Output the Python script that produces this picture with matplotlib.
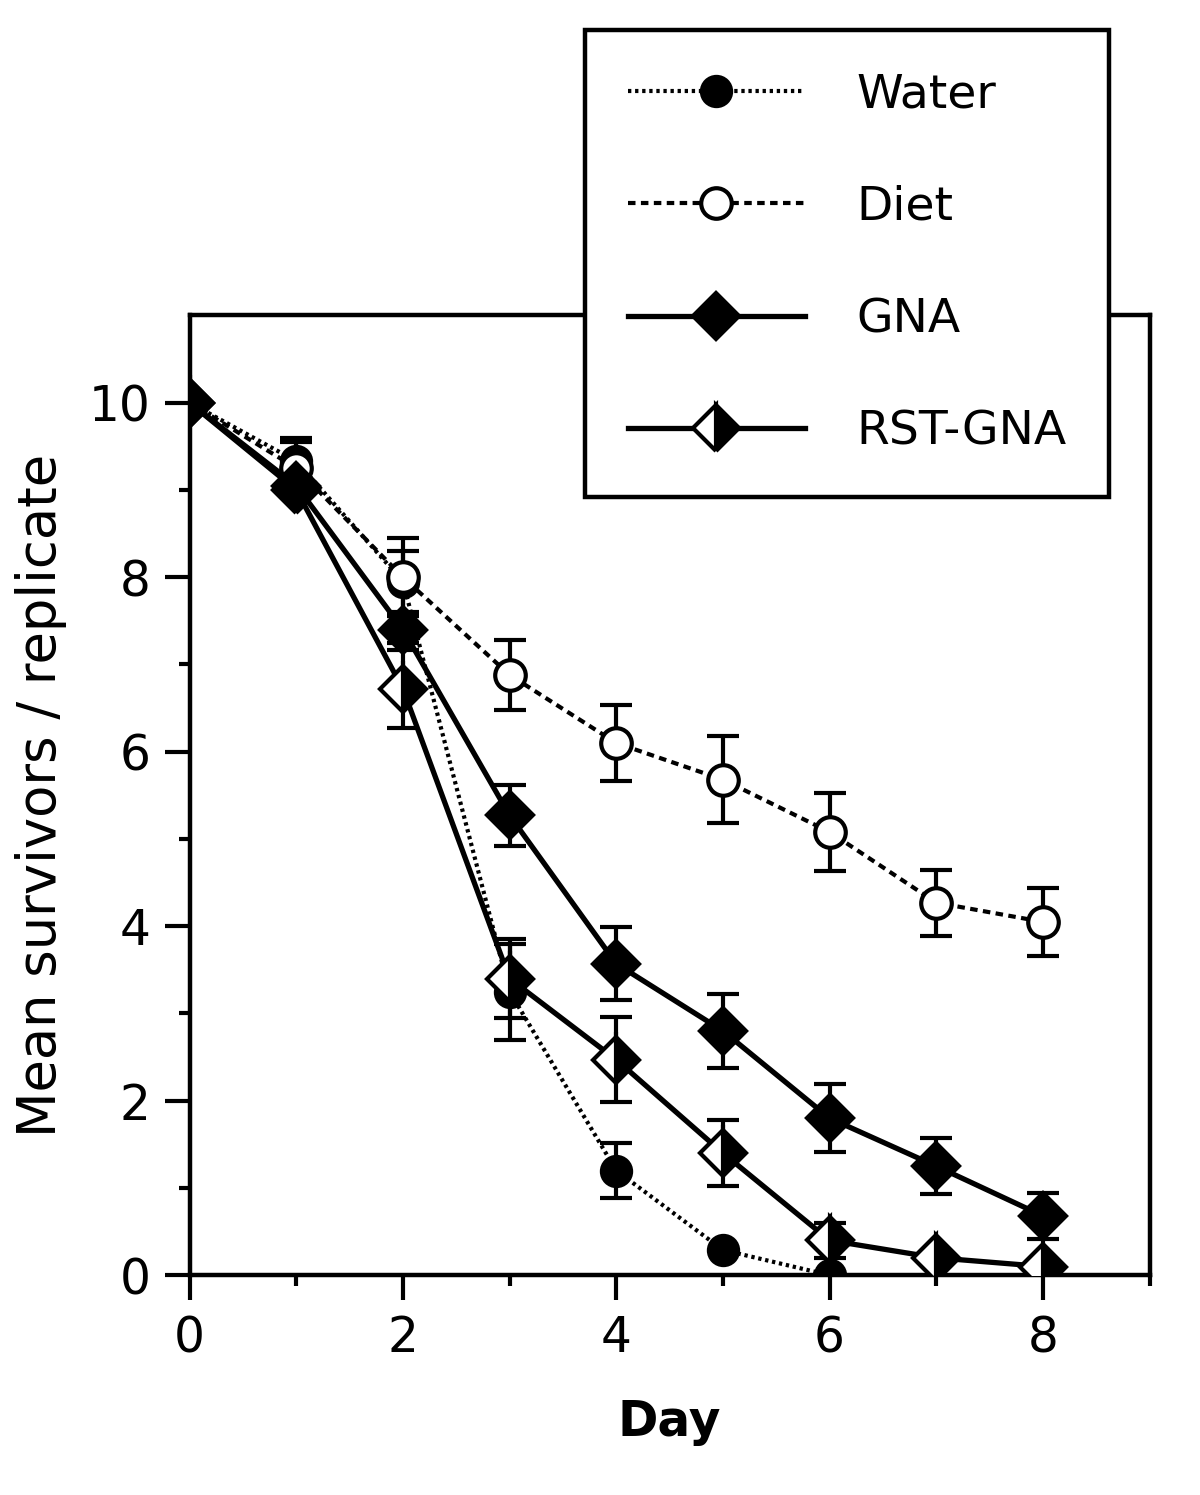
import matplotlib
matplotlib.use("Agg")
import matplotlib.pyplot as plt
from matplotlib.lines import Line2D

days = [0, 1, 2, 3, 4, 5, 6, 7, 8]

water_days = [0, 1, 2, 3, 4, 5, 6]
water = [10.0, 9.33, 7.95, 3.25, 1.2, 0.29, 0.0]
water_err = [0.0, 0.27, 0.35, 0.55, 0.31, 0.0, 0.0]

diet = [10.0, 9.25, 8.0, 6.88, 6.1, 5.68, 5.08, 4.27, 4.05]
diet_err = [0.0, 0.3, 0.45, 0.4, 0.44, 0.5, 0.45, 0.38, 0.39]

gna = [10.0, 9.05, 7.4, 5.27, 3.57, 2.8, 1.8, 1.25, 0.68]
gna_err = [0.0, 0.0, 0.15, 0.35, 0.42, 0.42, 0.39, 0.32, 0.26]

rst = [10.0, 9.0, 6.72, 3.4, 2.47, 1.4, 0.4, 0.2, 0.1]
rst_err = [0.0, 0.0, 0.45, 0.45, 0.49, 0.38, 0.2, 0.0, 0.0]

labels = ["Water", "Diet", "GNA", "RST-GNA"]

plt.rcParams['font.family'] = ['DejaVu Sans']
fig = plt.figure(figsize=(12, 14.95), dpi=100)
ax = fig.add_axes([0.158, 0.147, 0.8, 0.642])

lw = 3.8
ms_c = 22
ms_d = 23
cap = 11.5

dot = (0.8, 0.9)
dash = (1.8, 1.3)

styles = [
    dict(lw=3.0, dashes=dot, marker='o', ms=ms_c, mfc='black', mec='black', mew=2),
    dict(lw=3.0, dashes=dash, marker='o', ms=ms_c, mfc='white', mec='black', mew=3),
    dict(lw=lw, ls='-', marker='D', ms=ms_d, mfc='black', mec='black', mew=3),
    dict(lw=lw, ls='-', marker='D', ms=ms_d, mfc='black', markerfacecoloralt='white',
         fillstyle='right', mec='black', mew=3),
]

series = [
    (water_days, water, water_err, styles[0], 3),
    (days, diet, diet_err, styles[1], 3),
    (days, rst, rst_err, styles[3], 4),
    (days, gna, gna_err, styles[2], 5),
]

for xs, ys, es, st, z in series:
    ex = [x for x, e in zip(xs, es) if e > 0]
    ey = [y for y, e in zip(ys, es) if e > 0]
    ee = [e for e in es if e > 0]
    ax.errorbar(ex, ey, yerr=ee, fmt='none', ecolor='black', elinewidth=3,
                capsize=cap, capthick=3, zorder=z - 0.5)
    ax.plot(xs, ys, color='black', zorder=z, **st)

ax.set_xlim(0, 9)
ax.set_ylim(0, 11)
ax.set_xticks([0, 2, 4, 6, 8])
ax.set_xticks([1, 3, 5, 7, 9], minor=True)
ax.set_yticks([0, 2, 4, 6, 8, 10])
ax.set_yticks([1, 3, 5, 7, 9], minor=True)
for s in ax.spines.values():
    s.set_linewidth(3.2)
ax.tick_params(which='major', direction='out', length=18, width=3,
               labelsize=35, pad=10)
ax.tick_params(which='minor', direction='out', length=8, width=3)
ax.set_xlabel("Day", fontsize=35, fontweight='bold', labelpad=26)
ax.set_ylabel("Mean survivors / replicate", fontsize=38, labelpad=16)

handles = [Line2D([], [], color='black', **st) for st in styles]
leg = fig.legend(handles, labels, loc='upper left',
                 bbox_to_anchor=(0.4875, 0.98), fontsize=34,
                 handlelength=3.75, handletextpad=1.1, labelspacing=1.43,
                 borderpad=0.9, borderaxespad=0, fancybox=False,
                 framealpha=1, edgecolor='black')
leg.get_frame().set_linewidth(3.2)
leg.set_zorder(10)

fig.savefig("out.png", dpi=100)
